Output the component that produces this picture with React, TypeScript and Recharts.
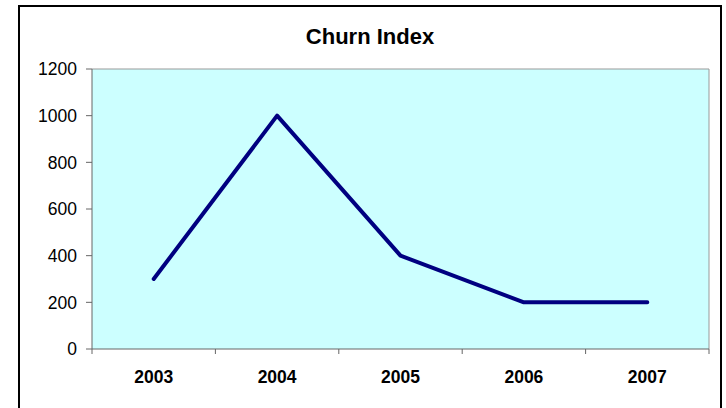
import { LineChart, Line, XAxis, YAxis, CartesianGrid, ReferenceLine } from 'recharts';

const years = ['2003', '2004', '2005', '2006', '2007'];
const churn = [300, 1000, 400, 200, 200];
const yTicks = [0, 200, 400, 600, 800, 1000, 1200];

// category i sits in the middle of band [i, i+1] on a numeric axis, so tick marks can go on the band edges
const data = years.map((year, i) => ({ year, x: i + 0.5, churn: churn[i] }));
const xTicks = [0, 0.5, 1, 1.5, 2, 2.5, 3, 3.5, 4, 4.5, 5];

const FONT = '"Liberation Sans", Arial, sans-serif';

const YearTick = ({ x, y, payload }: any) => {
  const v = payload.value;
  if (Number.isInteger(v)) {
    return <line x1={x} y1={y} x2={x} y2={y + 5} stroke="#666" strokeWidth={1} />;
  }
  const label = years[Math.floor(v)];
  return (
    <text x={x} y={y + 34} textAnchor="middle" fill="#000" fontWeight="bold" fontSize={17.5} fontFamily={FONT}>
      {label}
    </text>
  );
};

export default function App() {
  return (
    <div style={{ position: 'fixed', left: 0, top: 0, width: 726, height: 408, background: '#fff', overflow: 'hidden' }}>
      <div style={{ position: 'absolute', left: 18, top: 5, width: 700, height: 420, border: '2px solid #000' }} />
      <div
        style={{
          position: 'absolute', left: 19, top: 26, width: 702, textAlign: 'center',
          fontFamily: FONT, fontWeight: 'bold', fontSize: 22, lineHeight: '22px', color: '#000',
        }}
      >
        Churn Index
      </div>
      <div style={{ position: 'absolute', left: 0, top: 0 }}>
        <LineChart width={726} height={408} data={data} margin={{ top: 69, right: 17, left: 0, bottom: 0 }}>
          <CartesianGrid fill="#CCFFFF" horizontal={false} vertical={false} />
          <XAxis
            type="number"
            dataKey="x"
            domain={[0, 5]}
            ticks={xTicks}
            interval={0}
            height={59}
            tickSize={0}
            tickMargin={0}
            tickLine={false}
            axisLine={{ stroke: '#666', strokeWidth: 1 }}
            tick={<YearTick />}
          />
          <YAxis
            domain={[0, 1200]}
            ticks={yTicks}
            interval={0}
            width={92}
            tickSize={6}
            tickMargin={9}
            axisLine={{ stroke: '#666', strokeWidth: 1 }}
            tickLine={{ stroke: '#666', strokeWidth: 1 }}
            tick={{ fill: '#000', fontSize: 17.5, fontFamily: FONT }}
          />
          <ReferenceLine y={1200} stroke="#999" strokeWidth={1} />
          <ReferenceLine x={5} stroke="#999" strokeWidth={1} />
          <Line
            type="linear"
            dataKey="churn"
            stroke="#000080"
            strokeWidth={4}
            strokeLinecap="round"
            strokeLinejoin="round"
            dot={false}
            activeDot={false}
            isAnimationActive={false}
          />
        </LineChart>
      </div>
    </div>
  );
}
